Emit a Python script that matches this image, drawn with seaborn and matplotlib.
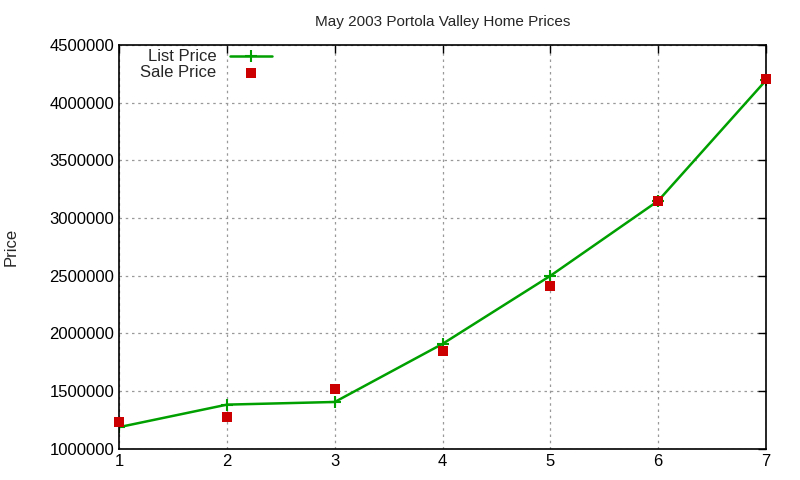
import pandas as pd
import seaborn as sns
from matplotlib import pyplot as plt

# house index and prices
house = [1, 2, 3, 4, 5, 6, 7]
list_price = [1188000, 1383000, 1406000, 1910000, 2500000, 3150000, 4195000]
sale_price = [1235000, 1278000, 1516000, 1850000, 2410000, 3150000, 4205000]

df = pd.DataFrame({'house': house, 'list': list_price, 'sale': sale_price})

sns.set_style("white")
plt.rcParams['font.family'] = ['Liberation Sans', 'DejaVu Sans']

fig = plt.figure(figsize=(8, 4.8), dpi=100)
ax = fig.add_axes([0.149, 0.065, 0.8085, 0.841])

green = '#00a000'
sns.lineplot(data=df, x='house', y='list', ax=ax, color=green,
             marker='+', markersize=8, markeredgewidth=1.5,
             markeredgecolor=green, linewidth=1.8, label='List Price')
sns.scatterplot(data=df, x='house', y='sale', ax=ax, color='#cc0000',
                marker='s', s=45, linewidth=0, label='Sale Price',
                zorder=3, clip_on=False)

ax.set_xlim(1, 7)
ax.set_ylim(1000000, 4500000)
ax.set_xticks(house)
ax.set_yticks(range(1000000, 4500001, 500000))
ax.ticklabel_format(axis='y', style='plain', useOffset=False)
ax.tick_params(direction='in', top=True, right=True, length=6,
               labelsize=12, colors='black', width=1)
ax.grid(True, color='#999999', linestyle=(0, (2, 3)), linewidth=0.9)
for s in ax.spines.values():
    s.set_color('black')
    s.set_linewidth(1.2)

ax.set_xlabel('')
ax.set_ylabel('Price', fontsize=12)
ax.yaxis.set_label_coords(-0.155, 0.5)
ax.set_title('May 2003 Portola Valley Home Prices', fontsize=11, pad=14)

leg = ax.legend(loc='upper left', frameon=False, markerfirst=False,
                fontsize=12, handlelength=2.5, borderaxespad=0.1,
                labelspacing=0.05, bbox_to_anchor=(0.02, 1.01))

fig.savefig('out.png', dpi=100)
